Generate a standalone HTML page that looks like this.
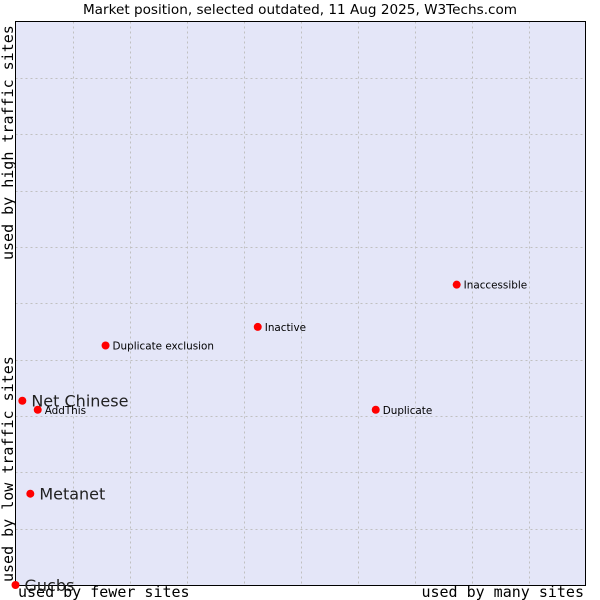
<!DOCTYPE html>
<html><head><meta charset="utf-8"><style>
body{margin:0;background:#fff}
svg{display:block}
</style></head><body>
<svg id="chart" width="600" height="600" xmlns="http://www.w3.org/2000/svg">
<text x="300" y="14" text-anchor="middle" font-family="DejaVu Sans, sans-serif" font-size="13.6" fill="#000">Market position, selected outdated, 11 Aug 2025, W3Techs.com</text>
<rect x="15.5" y="21.5" width="570" height="563.5" fill="#e4e6f8" stroke="none"/>
<g id="grid"></g>
<line x1="15.5" y1="21.5" x2="15.5" y2="585.5" stroke="#000"/>
<line x1="15" y1="585.5" x2="586" y2="585.5" stroke="#000"/>
<line x1="15" y1="21.5" x2="586" y2="21.5" stroke="#000"/>
<line x1="585.5" y1="21.5" x2="585.5" y2="585.5" stroke="#000"/>
<g id="points"></g>
<text x="18" y="597" font-family="DejaVu Sans Mono, monospace" font-size="15" fill="#000">used by fewer sites</text>
<text x="584" y="597" text-anchor="end" font-family="DejaVu Sans Mono, monospace" font-size="15" fill="#000">used by many sites</text>
<text transform="translate(13,582) rotate(-90)" font-family="DejaVu Sans Mono, monospace" font-size="15" fill="#000">used by low traffic sites</text>
<text transform="translate(13,260) rotate(-90)" font-family="DejaVu Sans Mono, monospace" font-size="15" fill="#000">used by high traffic sites</text>
</svg>
<script>
const names = ["Gucbs","Net Chinese","AddThis","Metanet","Duplicate exclusion","Inactive","Duplicate","Inaccessible"];
const xValues = [0,1.2,3.9,2.6,15.8,42.5,63.2,77.4];
const yValues = [0,32.7,31.1,16.2,42.5,45.8,31.1,53.3];
const bigLabel = [true,true,false,true,false,false,false,false];
const gridTicks = [1,2,3,4,5,6,7,8,9];
const NS="http://www.w3.org/2000/svg";
const X0=15.5,X1=585.5,Y0=585,Y1=21.5;
const sx=v=>X0+(X1-X0)*v/100;
const sy=v=>Y0-(Y0-Y1)*v/100;
const grid=document.getElementById('grid');
gridTicks.forEach(t=>{
  const v=document.createElementNS(NS,'line');
  
  
  const x=Math.round(sx(t*10))+0.5;
  v.setAttribute('x1',x);v.setAttribute('x2',x);v.setAttribute('y1',Y1);v.setAttribute('y2',Y0);
  v.setAttribute('stroke','#c0c0c0');v.setAttribute('stroke-dasharray','2,3');
  grid.appendChild(v);
  const h=document.createElementNS(NS,'line');
  
  
  const y=Math.round(sy(t*10))+0.5;
  h.setAttribute('x1',X0);h.setAttribute('x2',X1);h.setAttribute('y1',y);h.setAttribute('y2',y);
  h.setAttribute('stroke','#c0c0c0');h.setAttribute('stroke-dasharray','2,3');
  grid.appendChild(h);
});
const pts=document.getElementById('points');
names.forEach((n,i)=>{
  const cx=sx(xValues[i]),cy=sy(yValues[i]);
  const c=document.createElementNS(NS,'circle');
  
  
  c.setAttribute('cx',cx);c.setAttribute('cy',cy);c.setAttribute('r',4);c.setAttribute('fill','#ff0000');
  pts.appendChild(c);
  const t=document.createElementNS(NS,'text');
  
  
  t.setAttribute('x',cx+(bigLabel[i]?9:7));
  t.setAttribute('y',cy+(bigLabel[i]?6:4));
  t.setAttribute('font-family','DejaVu Sans, sans-serif');
  t.setAttribute('font-size',bigLabel[i]?16:10.4);
  t.setAttribute('fill',bigLabel[i]?'#222':'#000');
  t.textContent=n;
  pts.appendChild(t);
});
</script>
</body></html>
